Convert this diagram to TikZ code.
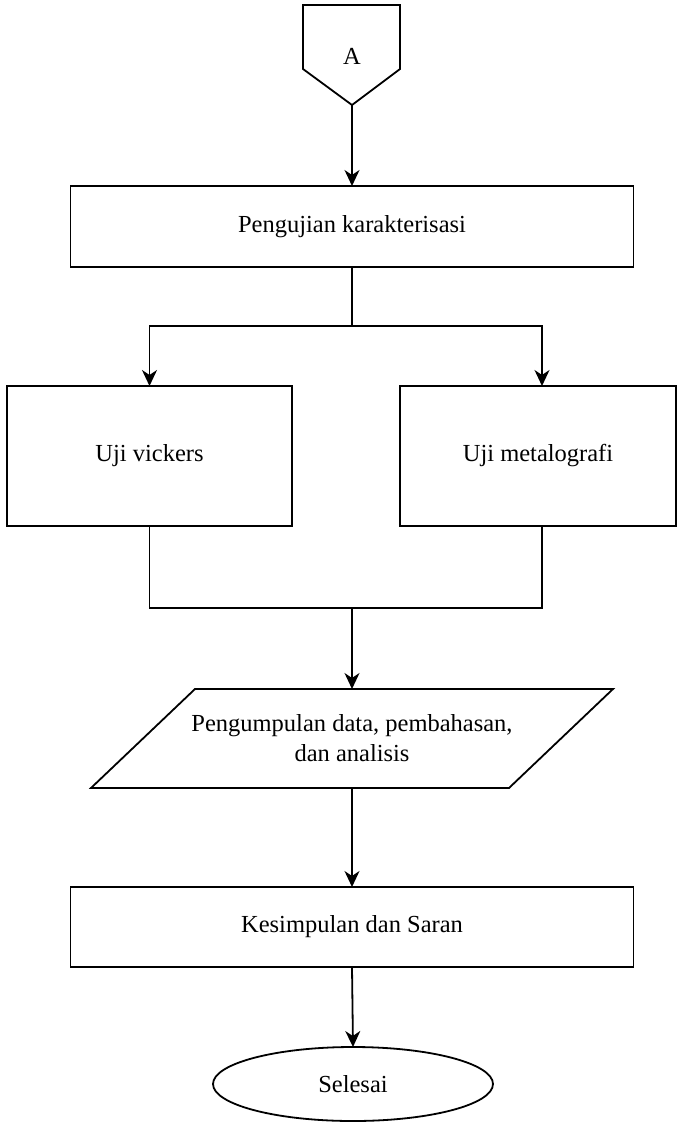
\documentclass[tikz,border=0pt]{standalone}
\usepackage{fontspec}
\setmainfont{Liberation Serif}
\usetikzlibrary{shapes.geometric,arrows.meta,calc}
\begin{document}
\begin{tikzpicture}[x=1pt,y=-1pt,line width=1.8pt,
  font=\fontsize{24.5}{30}\selectfont,
  procbox/.style={draw,rectangle,inner sep=0pt,outer sep=0pt},
  arr/.style={-{Stealth[length=16pt,width=15pt,inset=5pt]}},
  lbl/.style={inner sep=0pt,outer sep=0pt,align=center}]
\useasboundingbox (0,0) rectangle (678,1123);
% off-page connector A
\draw (303,5) -- (400,5) -- (400,69) -- (352,105) -- (303,69) -- cycle;
\node[lbl] (A) at (352,56) {A};
\coordinate (Apt) at (352,105);
% boxes
\node[procbox,minimum width=563pt,minimum height=81pt] (b1) at (352,226.5) {Pengujian karakterisasi};
\node[procbox,minimum width=285pt,minimum height=140pt] (vk) at (149.5,456) {Uji vickers};
\node[procbox,minimum width=276pt,minimum height=140pt] (mt) at (538,456) {Uji metalografi};
% parallelogram
\node[lbl,minimum height=99pt] (data) at (352,738.5) {Pengumpulan data, pembahasan,\\dan analisis};
\draw (195,689) -- (613,689) -- (509,788) -- (91,788) -- cycle;
\node[procbox,minimum width=563pt,minimum height=80pt] (ks) at (352,927) {Kesimpulan dan Saran};
\node[draw,ellipse,inner sep=0pt,outer sep=0pt,minimum width=280pt,minimum height=74pt] (end) at (353,1084) {Selesai};
% connectors
\draw[arr] (Apt) -- (b1.north);
\coordinate (sp) at (352,326);
\draw (b1.south) -- (sp);
\draw[arr] (sp) -| (vk.north);
\draw[arr] (sp) -| ([xshift=4pt]mt.north);
\coordinate (mg) at (352,608);
\draw (vk.south) |- (mg);
\draw ([xshift=4pt]mt.south) |- (mg);
\draw[arr] (mg) -- (data.north);
\draw[arr] (data.south) -- (ks.north);
\draw[arr] (ks.south) -- (end.north);
\end{tikzpicture}
\end{document}
